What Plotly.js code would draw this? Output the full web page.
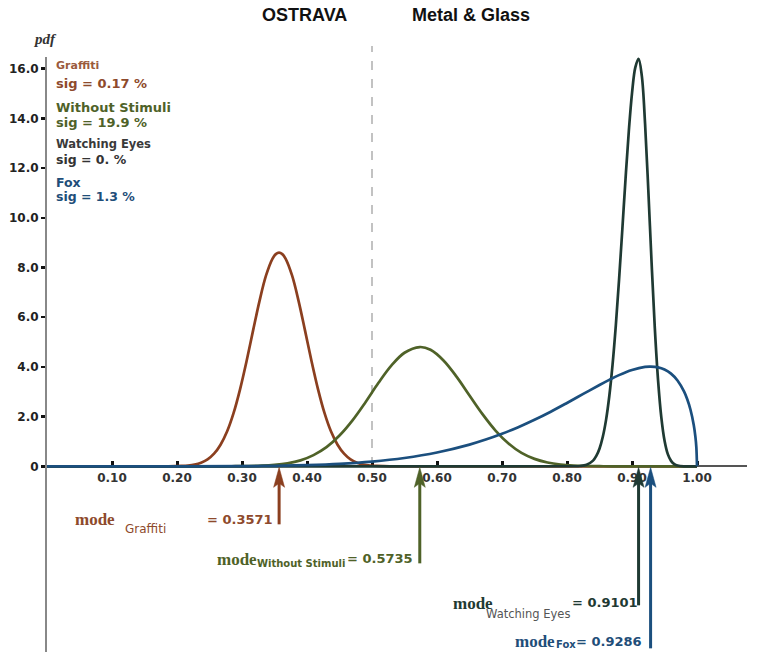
<!DOCTYPE html>
<html>
<head>
<meta charset="utf-8">
<script src="https://cdn.plot.ly/plotly-3.0.1.min.js"></script>
<style>html,body{margin:0;padding:0;background:#fff;}#chart{width:757px;height:652px;}</style>
</head>
<body>
<div id="chart"></div>
<script>
// ---- data ----
const graffitiX = [0.00,0.187,0.197,0.207,0.217,0.227,0.237,0.247,0.257,0.267,0.277,0.287,0.297,0.307,0.317,0.327,0.337,0.347,0.352,0.357,0.362,0.367,0.377,0.387,0.397,0.407,0.417,0.427,0.437,0.447,0.457,0.467,0.477,0.487,0.497,0.507,0.517,0.527,1.00];
const graffitiY = [0,0.002,0.006,0.015,0.033,0.071,0.145,0.28,0.51,0.87,1.40,2.14,3.10,4.23,5.46,6.66,7.68,8.36,8.54,8.60,8.54,8.36,7.68,6.66,5.46,4.23,3.10,2.14,1.40,0.87,0.51,0.28,0.145,0.071,0.033,0.015,0.006,0.002,0];

const stimuliX = [0.00,0.27,0.29,0.31,0.33,0.35,0.37,0.39,0.41,0.43,0.45,0.47,0.49,0.51,0.53,0.55,0.5735,0.59,0.61,0.63,0.65,0.67,0.69,0.71,0.73,0.75,0.77,0.79,0.81,0.83,0.85,0.87,1.00];
const stimuliY = [0,0.002,0.005,0.010,0.025,0.057,0.12,0.24,0.45,0.77,1.24,1.85,2.58,3.36,4.06,4.57,4.80,4.69,4.26,3.61,2.85,2.10,1.44,0.92,0.54,0.30,0.155,0.074,0.033,0.013,0.005,0.002,0];

const eyesX = [0.00,0.8101,0.8201,0.8301,0.8401,0.8451,0.8501,0.8551,0.8601,0.8651,0.8701,0.8751,0.8801,0.8851,0.8901,0.8951,0.9001,0.9051,0.9101,0.9151,0.9201,0.9251,0.9301,0.9351,0.9401,0.9451,0.9501,0.9551,0.9601,0.9651,0.9701,0.9801,1.00];
const eyesY = [0,0.003,0.015,0.063,0.23,0.42,0.72,1.19,1.87,2.83,4.09,5.66,7.51,9.53,11.59,13.49,15.04,16.05,16.40,15.71,13.79,11.11,8.21,5.56,3.46,1.97,1.03,0.49,0.22,0.088,0.032,0.002,0];

const foxX = [0.00,0.20,0.30,0.35,0.40,0.45,0.50,0.55,0.60,0.65,0.675,0.70,0.725,0.75,0.775,0.80,0.825,0.85,0.865,0.88,0.90,0.92,0.9286,0.94,0.95,0.96,0.97,0.98,0.985,0.99,0.995,0.9975,0.999,1.00];
const foxY = [0,0.0006,0.008,0.021,0.049,0.100,0.190,0.335,0.556,0.875,1.077,1.311,1.576,1.874,2.199,2.550,2.913,3.274,3.481,3.670,3.876,4.000,4.010,3.983,3.895,3.730,3.455,3.015,2.699,2.278,1.664,1.196,0.764,0];

const seriesNames = ['Graffiti','Without Stimuli','Watching Eyes','Fox'];
const sigLabels = ['sig = 0.17 %','sig = 19.9 %','sig = 0. %','sig = 1.3 %'];
const modeValues = [0.3571, 0.5735, 0.9101, 0.9286];
const modeTexts = ['= 0.3571','= 0.5735','= 0.9101','= 0.9286'];

const xTickVals = [0.1,0.2,0.3,0.4,0.5,0.6,0.7,0.8,0.9,1.0];
const xTickText = ['0.10','0.20','0.30','0.40','0.50','0.60','0.70','0.80','0.90','1.00'];
const yTickVals = [0,2,4,6,8,10,12,14,16];
const yTickText = ['0','2.0','4.0','6.0','8.0','10.0','12.0','14.0','16.0'];

// ---- styling / layout ----
const colors = ['#8b3f1f','#4f6228','#1f3a33','#1b4f7e'];
const textColors = ['#8e4a2c','#4f6228','#1f3a33','#1f4e79'];
const ml = 47, mt = 57, W = 700, H = 595;
const yMin = -7.47, yMax = 16.47;
function px(x){ return (x - ml) / W; }
function py(y){ return 1 - (y - mt) / H; }
const SANS = 'DejaVu Sans, Verdana, sans-serif';
const SERIF = 'Liberation Serif, Times New Roman, serif';
const ARIAL = 'Liberation Sans, Arial, sans-serif';

function txt(text, x, y, size, color, opts){
  opts = opts || {};
  return {xref:'paper', yref:'paper', x:px(x), y:py(y), text:text, showarrow:false,
    xanchor: opts.xanchor || 'left', yanchor:'middle',
    font:{size:size, color:color, family: opts.family || SANS, weight: opts.weight || 'bold', style: opts.style || 'normal'}};
}

const xs = [graffitiX, stimuliX, eyesX, foxX];
const ys = [graffitiY, stimuliY, eyesY, foxY];
const traces = seriesNames.map((n,i)=>({
  x: xs[i], y: ys[i], type:'scatter', mode:'lines', name:n,
  line:{color:colors[i], width:2.7, shape:'spline', smoothing:1}, hoverinfo:'skip'
}));

const annotations = [
  txt('OSTRAVA', 304, 15, 18, '#111', {xanchor:'center', family:ARIAL}),
  txt('Metal &amp; Glass', 471, 15, 18, '#111', {xanchor:'center', family:ARIAL}),
  txt('pdf', 31, 39, 15, '#333', {family:SERIF, style:'italic'}),
  txt(seriesNames[0], 54, 66, 11, '#9a5a3c'),
  txt(sigLabels[0], 54, 84, 13, textColors[0]),
  txt(seriesNames[1], 54, 107, 13, textColors[1]),
  txt(sigLabels[1], 54, 122, 13, textColors[1]),
  txt(seriesNames[2], 54, 144, 11.5, '#3a3a3a'),
  txt(sigLabels[2], 54, 159, 12.5, '#333'),
  txt(seriesNames[3], 54, 182.5, 12.5, textColors[3]),
  txt(sigLabels[3], 54, 196.5, 12.5, textColors[3]),
  // mode labels
  txt('mode', 73, 519, 17, textColors[0], {family:SERIF}),
  txt(seriesNames[0], 123, 529, 12, textColors[0], {weight:'normal'}),
  txt(modeTexts[0], 205, 519, 13, textColors[0]),
  txt('mode', 215, 559, 17, textColors[1], {family:SERIF}),
  txt(seriesNames[1], 255, 563, 10, textColors[1]),
  txt(modeTexts[1], 345, 558, 13, textColors[1]),
  txt('mode', 451, 603, 17, textColors[2], {family:SERIF}),
  txt(seriesNames[2], 484, 614, 11.5, '#555', {weight:'normal'}),
  txt(modeTexts[2], 570, 602, 13, textColors[2]),
  txt('mode', 513, 641, 17, textColors[3], {family:SERIF}),
  txt(seriesNames[3], 554, 644, 10, textColors[3]),
  txt(modeTexts[3], 574, 641, 13, textColors[3])
];

const shaftLen = [58, 97, 139, 182];
const shapes = [
  {type:'line', xref:'x', yref:'paper', x0:0.5, x1:0.5, y0:py(466), y1:py(46),
   line:{color:'#9a9a9a', width:1.2, dash:'dash'}, layer:'below'}
];
modeValues.forEach((m,i)=>{
  shapes.push({type:'line', xref:'x', yref:'y', xsizemode:'pixel', ysizemode:'pixel',
    xanchor:m, yanchor:0, x0:0, x1:0, y0:-shaftLen[i], y1:-16,
    line:{color:colors[i], width:3}});
  shapes.push({type:'path', xref:'x', yref:'y', xsizemode:'pixel', ysizemode:'pixel',
    xanchor:m, yanchor:0, path:'M 0 -1 L 5.5 -21 L 0 -17 L -5.5 -21 Z',
    fillcolor:colors[i], line:{color:colors[i], width:0.5}});
});

const layout = {
  width:757, height:652,
  margin:{l:ml, r:757-ml-W, t:mt, b:652-mt-H, pad:0},
  paper_bgcolor:'#fff', plot_bgcolor:'#fff',
  showlegend:false,
  xaxis:{range:[0, W/650], anchor:'free', position:(0-yMin)/(yMax-yMin),
    tickvals:xTickVals, ticktext:xTickText, ticks:'inside', ticklen:4, tickwidth:3, tickcolor:'#111',
    showline:true, linecolor:'#555', linewidth:2, showgrid:false, zeroline:false, layer:'below traces',
    tickfont:{family:SANS, size:12, color:'#333', weight:'bold'}, automargin:false, fixedrange:true},
  yaxis:{range:[yMin, yMax], tickvals:yTickVals, ticktext:yTickText, ticks:'outside', ticklen:4, tickwidth:2.5, tickcolor:'#111',
    showline:true, linecolor:'#888', linewidth:2, showgrid:false, zeroline:false,
    tickfont:{family:SANS, size:12, color:'#222', weight:'bold'}, automargin:false, fixedrange:true},
  annotations:annotations,
  shapes:shapes
};

Plotly.newPlot('chart', traces, layout, {displayModeBar:false, staticPlot:true});
</script>
</body>
</html>
